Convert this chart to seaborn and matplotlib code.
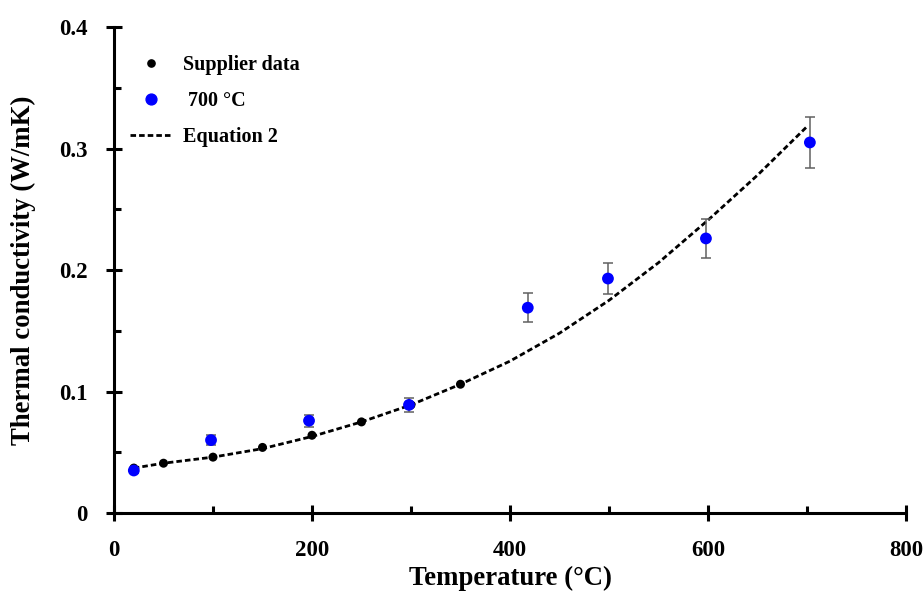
import matplotlib
matplotlib.use("Agg")
import matplotlib.pyplot as plt
from matplotlib.ticker import MultipleLocator
from matplotlib.lines import Line2D
import seaborn as sns
import pandas as pd

# Supplier data
supplier_T = [20, 50, 100, 150, 200, 250, 300, 350]
supplier_k = [0.037, 0.041, 0.046, 0.054, 0.064, 0.075, 0.089, 0.106]

# Measurements after 700 °C
meas_T = [20, 98, 197, 298, 418, 499, 598, 703]
meas_k = [0.035, 0.060, 0.076, 0.089, 0.169, 0.193, 0.226, 0.305]
meas_err = [0.002, 0.004, 0.005, 0.006, 0.012, 0.013, 0.016, 0.021]

# Equation 2 curve
eq_T = [20, 50, 100, 150, 200, 250, 300, 350, 400, 450, 500, 550, 600, 650, 700]
eq_k = [0.037, 0.041, 0.046, 0.053, 0.063, 0.075, 0.089, 0.106, 0.125,
        0.148, 0.175, 0.206, 0.241, 0.278, 0.318]

sns.set_style("white")
plt.rcParams['font.family'] = ['Liberation Serif', 'DejaVu Serif']
plt.rcParams['font.weight'] = 'bold'
plt.rcParams['text.color'] = 'black'
plt.rcParams['axes.labelcolor'] = 'black'

fig = plt.figure(figsize=(9.24, 6.02), dpi=100)
ax = fig.add_axes([0.1234, 0.1478, 0.857, 0.8073])

df_eq = pd.DataFrame({"T": eq_T, "k": eq_k})
df_sup = pd.DataFrame({"T": supplier_T, "k": supplier_k})
df_meas = pd.DataFrame({"T": meas_T, "k": meas_k})

DASH = (2.0, 1.1)
sns.lineplot(data=df_eq, x="T", y="k", ax=ax, color="black", lw=2.0,
             zorder=2)
ax.lines[-1].set_dashes(DASH)
sns.scatterplot(data=df_sup, x="T", y="k", ax=ax, color="black", s=42,
                edgecolor="none", zorder=3)
ax.errorbar(meas_T, meas_k, yerr=meas_err, fmt="none", ecolor="#606060",
            elinewidth=1.1, capsize=3.6, capthick=1.1, zorder=4)
sns.scatterplot(data=df_meas, x="T", y="k", ax=ax, color="#0000ff", s=72,
                edgecolor="none", zorder=5)

ax.set_xlim(0, 800)
ax.set_ylim(0, 0.4)
ax.xaxis.set_major_locator(MultipleLocator(200))
ax.xaxis.set_minor_locator(MultipleLocator(100))
ax.yaxis.set_minor_locator(MultipleLocator(0.05))
ax.set_yticks([0, 0.1, 0.2, 0.3, 0.4])
ax.set_yticklabels(["0", "0.1", "0.2", "0.3", "0.4"])

for side in ("top", "right"):
    ax.spines[side].set_visible(False)
for side in ("left", "bottom"):
    ax.spines[side].set_linewidth(2.2)
    ax.spines[side].set_color("black")

ax.tick_params(which="both", bottom=True, left=True, top=False, right=False)
ax.tick_params(which="major", direction="inout", length=11.5, width=2.2,
               labelsize=16.5, pad=13.5, colors="black")
ax.tick_params(which="minor", direction="in", length=5, width=2.2,
               colors="black")

ax.set_xlabel("Temperature (°C)", fontsize=19.3, fontweight="bold",
              labelpad=4)
ax.set_ylabel("Thermal conductivity (W/mK)", fontsize=19.3,
              fontweight="bold", labelpad=16)

handles = [
    Line2D([], [], ls="none", marker="o", color="black", markersize=5.2),
    Line2D([], [], ls="none", marker="o", color="#0000ff", markersize=7.8),
    Line2D([], [], color="black", lw=2.0, dashes=DASH),
]
labels = ["Supplier data", " 700 °C", "Equation 2"]
ax.legend(handles, labels, loc="upper left", bbox_to_anchor=(0.0202, 0.942),
          frameon=False, prop={"size": 14.5, "weight": "bold"},
          handlelength=2.1, labelspacing=0.8, handletextpad=0.55,
          borderaxespad=0.0, borderpad=0.0)

fig.savefig("out.png", dpi=100)
